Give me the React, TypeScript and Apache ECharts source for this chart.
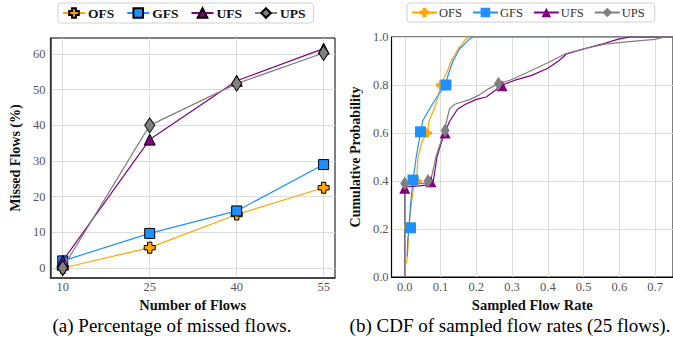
import React, { useEffect, useRef } from "react";
import * as echarts from "echarts";

// ---------- Data: (a) Percentage of missed flows ----------
const flowCounts = [10, 25, 40, 55];
const missedOFS = [0, 5.7, 15, 22.5];
const missedGFS = [2, 9.7, 16, 29];
const missedUFS = [2, 36, 52.5, 61.5];
const missedUPS = [0, 40, 51.7, 60.3];
const xTicksA = [10, 25, 40, 55];
const yTicksA = [0, 10, 20, 30, 40, 50, 60];

// ---------- Data: (b) CDF of sampled flow rates ----------
const cdfOFS: number[][] = [
  [0.005, 0.055], [0.009, 0.12], [0.011, 0.21], [0.018, 0.3], [0.026, 0.39], [0.033, 0.4],
  [0.037, 0.5], [0.05, 0.57], [0.063, 0.6], [0.068, 0.65], [0.082, 0.7], [0.093, 0.75],
  [0.1, 0.8], [0.117, 0.85], [0.13, 0.9], [0.149, 0.95], [0.17, 0.99], [0.18, 1.0], [0.75, 1.0],
];
const cdfGFS: number[][] = [
  [0.007, 0.085], [0.008, 0.15], [0.012, 0.2], [0.016, 0.3], [0.023, 0.4], [0.032, 0.5],
  [0.044, 0.6], [0.05, 0.65], [0.069, 0.7], [0.09, 0.75], [0.113, 0.8], [0.123, 0.85],
  [0.135, 0.9], [0.153, 0.95], [0.18, 0.99], [0.19, 1.0], [0.75, 1.0],
];
const cdfUFS: number[][] = [
  [0, 0], [0, 0.375], [0.04, 0.38], [0.07, 0.385], [0.08, 0.4], [0.085, 0.45], [0.09, 0.5],
  [0.1, 0.55], [0.111, 0.6], [0.126, 0.65], [0.148, 0.7], [0.17, 0.72], [0.2, 0.74],
  [0.228, 0.75], [0.255, 0.78], [0.272, 0.8], [0.308, 0.82], [0.355, 0.84], [0.4, 0.87],
  [0.43, 0.9], [0.453, 0.93], [0.5, 0.95], [0.55, 0.97], [0.595, 0.99], [0.63, 1.0], [0.75, 1.0],
];
const cdfUPS: number[][] = [
  [0, 0], [0, 0.39], [0.03, 0.39], [0.064, 0.39], [0.072, 0.4], [0.08, 0.45], [0.087, 0.5],
  [0.1, 0.56], [0.109, 0.6], [0.117, 0.65], [0.125, 0.7], [0.14, 0.72], [0.183, 0.74],
  [0.21, 0.76], [0.235, 0.785], [0.262, 0.805], [0.294, 0.82], [0.339, 0.85], [0.382, 0.88],
  [0.41, 0.9], [0.449, 0.93], [0.498, 0.95], [0.56, 0.97], [0.62, 0.98], [0.7, 0.99],
  [0.727, 1.0], [0.75, 1.0],
];
const markOFS: number[][] = [[0.011, 0.21], [0.035, 0.4], [0.063, 0.6], [0.1, 0.8]];
const markGFS: number[][] = [[0.016, 0.205], [0.023, 0.404], [0.044, 0.605], [0.115, 0.8]];
const markUFS: number[][] = [[0.0, 0.37], [0.073, 0.397], [0.113, 0.6], [0.272, 0.797]];
const markUPS: number[][] = [[0.0, 0.39], [0.065, 0.4], [0.113, 0.61], [0.262, 0.805]];
const xTicksB = [0, 0.1, 0.2, 0.3, 0.4, 0.5, 0.6, 0.7];

const seriesNames = ["OFS", "GFS", "UFS", "UPS"];
const colors = ["#FFA500", "#1E90FF", "#800080", "#808080"];

const SERIF = "'Liberation Serif', 'Times New Roman', serif";
const PLUS = "path://M3,0H7V3H10V7H7V10H3V7H0V3H3Z";
const symbols = [PLUS, "rect", "triangle", "diamond"];
const symSizesA: any[] = [11, 10, 11, [10, 15]];
const symSizesB: any[] = [9, 11, 11, [9, 14]];

function buildLeft(): any {
  const vals = [missedOFS, missedGFS, missedUFS, missedUPS];
  return {
    animation: false,
    legend: {
      left: 58,
      top: 3,
      itemWidth: 22,
      itemHeight: 12,
      itemGap: 12,
      padding: [3, 8, 3, 4],
      borderColor: "#d0d0d0",
      borderWidth: 1,
      borderRadius: 3,
      textStyle: { fontFamily: SERIF, fontWeight: "bold", fontSize: 13.5, color: "#111", padding: [0, 0, 0, -2] },
      data: seriesNames,
    },
    grid: { left: 35, top: 38, width: 300, height: 240, show: true, borderColor: "#000", borderWidth: 1 },
    xAxis: {
      type: "value",
      min: 7.87,
      max: 56.96,
      name: "Number of Flows",
      nameLocation: "middle",
      nameGap: 11,
      nameTextStyle: { fontFamily: SERIF, fontWeight: "bold", fontSize: 14.5, color: "#111" },
      axisLine: { show: true, onZero: false, lineStyle: { color: "#333", width: 1.5 } },
      axisTick: { show: false, customValues: xTicksA },
      axisLabel: { customValues: xTicksA, fontFamily: SERIF, fontSize: 12.5, color: "#555", margin: 2 },
      splitLine: { show: true, lineStyle: { color: "#dcdcdc", width: 1 } },
    },
    yAxis: {
      type: "value",
      min: -2.8,
      max: 64.49,
      name: "Missed Flows (%)",
      nameLocation: "middle",
      nameGap: 16,
      nameTextStyle: { fontFamily: SERIF, fontWeight: "bold", fontSize: 14, color: "#111" },
      axisLine: { show: true, onZero: false, lineStyle: { color: "#333", width: 1.5 } },
      axisTick: { show: false, customValues: yTicksA },
      axisLabel: { customValues: yTicksA, fontFamily: SERIF, fontSize: 12.5, color: "#555", margin: 5 },
      splitLine: { show: true, lineStyle: { color: "#dcdcdc", width: 1 } },
    },
    series: seriesNames.map((name, i) => ({
      name,
      type: "line",
      data: flowCounts.map((x, k) => [x, vals[i][k]]),
      symbol: symbols[i],
      symbolSize: symSizesA[i],
      lineStyle: { color: colors[i], width: 1.2 },
      itemStyle: { color: colors[i], borderColor: "#000", borderWidth: 1 },
      z: 2 + i,
    })),
    graphic: [
      {
        type: "text",
        x: 172,
        y: 325,
        style: {
          text: "(a) Percentage of missed flows.",
          font: `19px ${SERIF}`,
          fill: "#000",
          align: "center",
          verticalAlign: "middle",
        },
      },
    ],
  };
}

function buildRight(): any {
  const curves = [cdfOFS, cdfGFS, cdfUFS, cdfUPS];
  const marks = [markOFS, markGFS, markUFS, markUPS];
  const lineSeries = seriesNames.map((name, i) => ({
    name,
    type: "line",
    data: curves[i],
    showSymbol: false,
    symbol: symbols[i],
    symbolSize: symSizesB[i],
    lineStyle: { color: colors[i], width: 1.2 },
    itemStyle: { color: colors[i] },
    z: 2 + i,
  }));
  const markSeries = seriesNames.map((name, i) => ({
    name,
    type: "scatter",
    data: marks[i],
    symbol: symbols[i],
    symbolSize: symSizesB[i],
    itemStyle: { color: colors[i], opacity: 1 },
    z: 10 + i,
  }));
  return {
    animation: false,
    legend: {
      left: 67,
      top: 3,
      itemWidth: 25,
      itemHeight: 12,
      itemGap: 10,
      padding: [3, 10, 3, 4],
      borderColor: "#d0d0d0",
      borderWidth: 1,
      borderRadius: 3,
      textStyle: { fontFamily: SERIF, fontSize: 12.5, color: "#333", padding: [0, 0, 0, -3] },
      data: seriesNames,
    },
    grid: { left: 35, top: 37, width: 298, height: 240, show: true, borderColor: "#000", borderWidth: 1 },
    xAxis: {
      type: "value",
      min: -0.037,
      max: 0.75,
      name: "Sampled Flow Rate",
      nameLocation: "middle",
      nameGap: 12,
      nameTextStyle: { fontFamily: SERIF, fontWeight: "bold", fontSize: 14.5, color: "#111" },
      axisLine: { show: true, onZero: false, lineStyle: { color: "#000", width: 1.2 } },
      axisTick: { show: false, customValues: xTicksB },
      axisLabel: {
        customValues: xTicksB,
        formatter: (v: number) => v.toFixed(1),
        fontFamily: SERIF,
        fontSize: 12.5,
        color: "#555",
        margin: 3,
      },
      splitLine: { show: true, lineStyle: { color: "#dcdcdc", width: 1 } },
    },
    yAxis: {
      type: "value",
      min: 0,
      max: 1,
      interval: 0.2,
      name: "Cumulative Probability",
      nameLocation: "middle",
      nameGap: 16,
      nameTextStyle: { fontFamily: SERIF, fontWeight: "bold", fontSize: 14, color: "#111" },
      axisLine: { show: true, onZero: false, lineStyle: { color: "#000", width: 1.2 } },
      axisTick: { show: false },
      axisLabel: { formatter: (v: number) => v.toFixed(1), fontFamily: SERIF, fontSize: 12.5, color: "#555", margin: 3 },
      splitLine: { show: true, lineStyle: { color: "#dcdcdc", width: 1 } },
    },
    series: [...lineSeries, ...markSeries],
    graphic: [
      {
        type: "text",
        x: 170,
        y: 325,
        style: {
          text: "(b) CDF of sampled flow rates (25 flows).",
          font: `19px ${SERIF}`,
          fill: "#000",
          align: "center",
          verticalAlign: "middle",
        },
      },
    ],
  };
}

export default function App() {
  const leftRef = useRef<HTMLDivElement>(null);
  const rightRef = useRef<HTMLDivElement>(null);
  useEffect(() => {
    const a = echarts.init(leftRef.current!, undefined, { renderer: "svg" });
    const b = echarts.init(rightRef.current!, undefined, { renderer: "svg" });
    a.setOption(buildLeft());
    b.setOption(buildRight());
    return () => {
      a.dispose();
      b.dispose();
    };
  }, []);
  return (
    <div style={{ position: "absolute", left: 0, top: 0, width: 673, height: 343, background: "#fff" }}>
      <div ref={leftRef} style={{ position: "absolute", left: 0, top: 0, width: 340, height: 343 }} />
      <div ref={rightRef} style={{ position: "absolute", left: 340, top: 0, width: 333, height: 343 }} />
    </div>
  );
}
